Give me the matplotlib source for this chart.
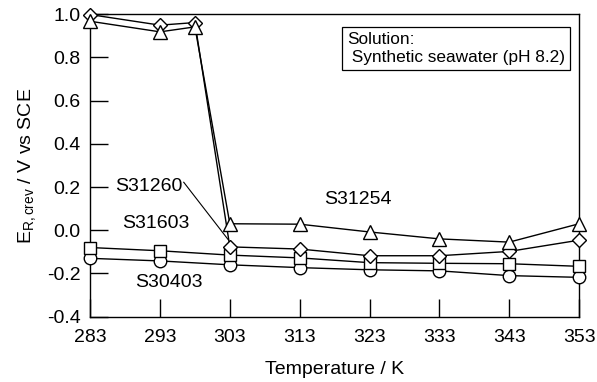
import matplotlib
matplotlib.use("Agg")
import matplotlib.pyplot as plt

plt.rcParams["font.family"] = ["Liberation Sans", "DejaVu Sans"]
plt.rcParams["mathtext.fontset"] = "custom"
plt.rcParams["mathtext.rm"] = "Liberation Sans"
plt.rcParams["mathtext.it"] = "Liberation Sans:italic"

# ── Data ──────────────────────────────────────────────────────────────────────
temp_high = [283, 293, 298, 303, 313, 323, 333, 343, 353]
s31254 = [0.967, 0.918, 0.941, 0.030, 0.028, -0.008, -0.040, -0.055, 0.030]
s31260 = [0.998, 0.949, 0.961, -0.077, -0.087, -0.118, -0.118, -0.098, -0.046]

temp_low = [283, 293, 303, 313, 323, 333, 343, 353]
s31603 = [-0.080, -0.095, -0.115, -0.128, -0.150, -0.153, -0.155, -0.167]
s30403 = [-0.130, -0.142, -0.160, -0.173, -0.183, -0.188, -0.210, -0.218]

xticks = [283, 293, 303, 313, 323, 333, 343, 353]
yticks = [-0.4, -0.2, 0.0, 0.2, 0.4, 0.6, 0.8, 1.0]

FS = 14

# ── Plot ──────────────────────────────────────────────────────────────────────
fig = plt.figure(figsize=(5.97, 3.82), dpi=100)
ax = fig.add_axes([0.151, 0.171, 0.819, 0.792])

style = dict(color="black", lw=1.0, mfc="white", mec="black", mew=1.0,
             clip_on=False)
ax.plot(temp_low, s30403, marker="o", ms=9, zorder=3, **style)
ax.plot(temp_low, s31603, marker="s", ms=9, zorder=4, **style)
ax.plot(temp_high, s31260, marker="D", ms=7.5, zorder=5, **style)
ax.plot(temp_high, s31254, marker="^", ms=10, zorder=6, **style)

ax.set_xlim(283, 353)
ax.set_ylim(-0.4, 1.0)
ax.set_xticks(xticks)
ax.set_yticks(yticks)
ax.set_yticklabels([f"{v:.1f}" for v in yticks])
ax.tick_params(direction="in", length=13, width=1.0, labelsize=FS,
               top=False, right=False)
ax.tick_params(axis="x", pad=9)
ax.tick_params(axis="y", pad=7)
for sp in ax.spines.values():
    sp.set_linewidth(1.0)

ax.set_xlabel("Temperature / K", fontsize=FS, labelpad=11)
ax.set_ylabel(r"E$_{\mathrm{R,crev}}$ / V vs SCE", fontsize=FS, labelpad=6)

# series labels
ax.text(316.5, 0.143, "S31254", fontsize=FS, ha="left", va="center")
ax.text(286.6, 0.203, "S31260", fontsize=FS, ha="left", va="center")
ax.text(287.6, 0.031, "S31603", fontsize=FS, ha="left", va="center")
ax.text(289.4, -0.243, "S30403", fontsize=FS, ha="left", va="center")
ax.plot([296.4, 302.8], [0.222, -0.045], color="black", lw=0.8, zorder=7)

ax.text(0.525, 0.94, "Solution:\n Synthetic seawater (pH 8.2)",
        transform=ax.transAxes, fontsize=12.4, ha="left", va="top",
        linespacing=1.25,
        bbox=dict(boxstyle="square,pad=0.3", facecolor="white",
                  edgecolor="black", linewidth=0.9))

fig.savefig("out.png", dpi=100)
